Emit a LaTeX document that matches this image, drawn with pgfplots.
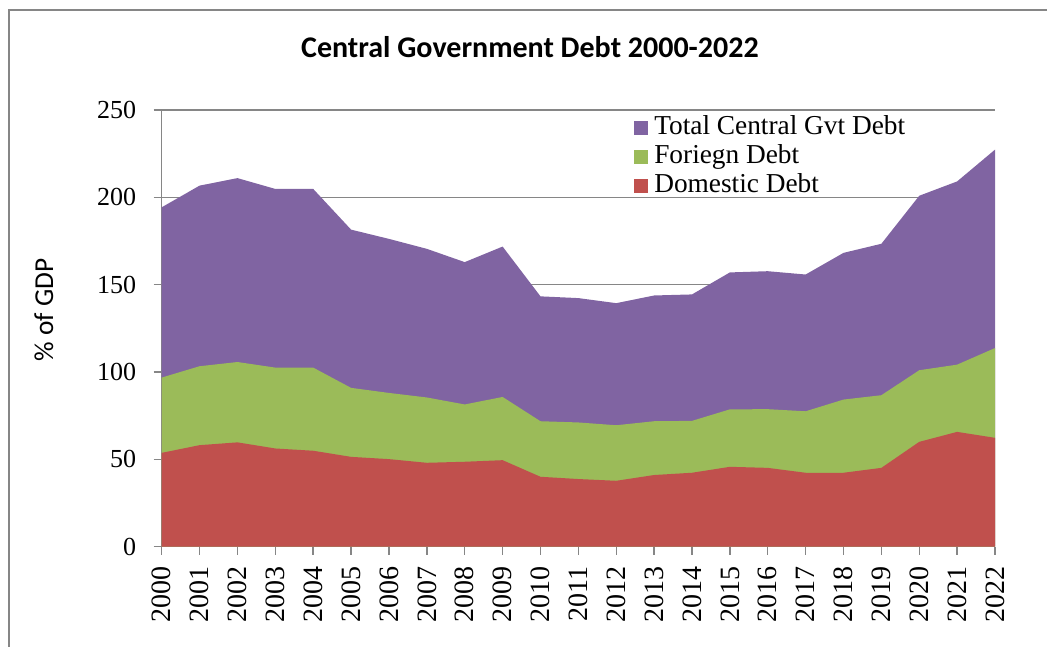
\documentclass[border=0pt]{standalone}
\usepackage{fontspec}
\setmainfont{Liberation Serif}
\newfontfamily\calfont{Carlito}
\usepackage{pgfplots}
\pgfplotsset{compat=1.18}
\definecolor{totc}{HTML}{8064A2}
\definecolor{forc}{HTML}{9BBB59}
\definecolor{domc}{HTML}{C0504D}
\definecolor{axc}{HTML}{868686}
\begin{document}
\begin{tikzpicture}
\useasboundingbox (-121.3pt,-75.2pt) rectangle (664pt,410pt);
\draw[axc, line width=1.1pt] (-114.5pt,-80pt) -- (-114.5pt,402.5pt) -- (670pt,402.5pt);
\begin{axis}[
  scale only axis,
  width=625pt, height=327.5pt,
  xmin=2000, xmax=2022, ymin=0, ymax=250,
  axis x line*=bottom, axis y line*=left,
  axis line style={axc, line width=1.1pt},
  xtick={2000,2001,...,2022},
  ytick={0,50,100,150,200,250},
  tick align=outside,
  major tick length=6pt,
  tick style={axc, line width=1.1pt},
  ymajorgrids,
  major grid style={axc, line width=1.1pt},
  /pgf/number format/assume math mode=true,
  /pgf/number format/1000 sep={},
  yticklabel style={font=\fontsize{19.5}{20}\selectfont, anchor=east, inner sep=0pt, xshift=-13pt},
  xticklabel style={font=\fontsize{21}{22}\selectfont, yshift=-9pt, rotate=90, anchor=east, inner sep=0pt},
  legend style={at={(0.5668,0.987)}, anchor=north west, draw=none, fill=none,
    font=\fontsize{20.5}{22}\selectfont, inner sep=0pt, row sep=3.8pt,
    nodes={inner sep=0pt, text height=14pt, text depth=4pt}},
  legend cell align=left,
  legend image code/.code={\fill[#1] (0pt,-5.25pt) rectangle (10.5pt,5.25pt); \path (15pt,0pt);},
]
\addplot[fill=totc, draw=none] coordinates {
(2000,194.3) (2001,206.7) (2002,211.0) (2003,204.8) (2004,204.8) (2005,181.5)
(2006,176.2) (2007,170.5) (2008,162.9) (2009,171.8) (2010,143.3) (2011,142.3)
(2012,139.4) (2013,143.8) (2014,144.4) (2015,157.0) (2016,157.7) (2017,155.8)
(2018,168.2) (2019,173.4) (2020,200.9) (2021,209.1) (2022,227.3)} \closedcycle;
\addlegendentry{Total Central Gvt Debt}
\addplot[fill=forc, draw=none] coordinates {
(2000,96.8) (2001,103.3) (2002,105.7) (2003,102.5) (2004,102.5) (2005,90.9)
(2006,88.0) (2007,85.4) (2008,81.4) (2009,85.7) (2010,71.8) (2011,71.1)
(2012,69.5) (2013,71.8) (2014,72.0) (2015,78.6) (2016,78.7) (2017,77.5)
(2018,84.2) (2019,86.7) (2020,101.0) (2021,104.2) (2022,113.7)} \closedcycle;
\addlegendentry{Foriegn Debt}
\addplot[fill=domc, draw=none] coordinates {
(2000,53.7) (2001,58.1) (2002,59.7) (2003,56.2) (2004,54.9) (2005,51.4)
(2006,50.1) (2007,48.0) (2008,48.6) (2009,49.5) (2010,40.0) (2011,38.7)
(2012,37.7) (2013,41.0) (2014,42.3) (2015,45.7) (2016,45.1) (2017,42.3)
(2018,42.3) (2019,45.1) (2020,60.0) (2021,65.7) (2022,62.3)} \closedcycle;
\addlegendentry{Domestic Debt}
\end{axis}
\node[font=\calfont\bfseries\fontsize{22.5}{24}\selectfont] at (276.2pt,374.8pt) {Central Government Debt 2000-2022};
\node[font=\calfont\fontsize{20.5}{22}\selectfont, rotate=90] at (-88.3pt,177.5pt) {\% of GDP};
\end{tikzpicture}
\end{document}
